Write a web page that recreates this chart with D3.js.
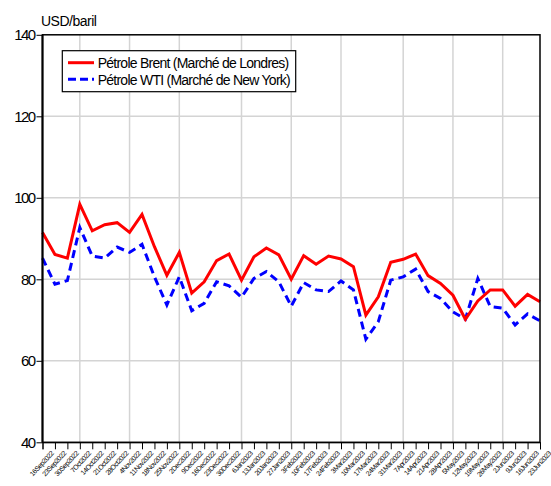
<!DOCTYPE html>
<html><head><meta charset="utf-8">
<script src="https://cdn.jsdelivr.net/npm/d3@7"></script>
<style>
body{margin:0;background:#fff;}
svg{display:block;font-family:"Liberation Sans",Arial,sans-serif;}
</style></head>
<body><svg id="c" width="551" height="486"></svg>
<script>
const dates = ["16Sep2022","23Sep2022","30Sep2022","7Oct2022","14Oct2022","21Oct2022","28Oct2022","4Nov2022","11Nov2022","18Nov2022","25Nov2022","2Dec2022","9Dec2022","16Dec2022","23Dec2022","30Dec2022","6Jan2023","13Jan2023","20Jan2023","27Jan2023","3Feb2023","10Feb2023","17Feb2023","24Feb2023","3Mar2023","10Mar2023","17Mar2023","24Mar2023","31Mar2023","7Apr2023","14Apr2023","21Apr2023","28Apr2023","5May2023","12May2023","19May2023","26May2023","2Jun2023","9Jun2023","16Jun2023","23Jun2023"];
const brent = [91.5,86.1,85.2,98.4,91.9,93.4,93.9,91.5,95.9,88.0,81.0,86.6,76.6,79.4,84.6,86.2,79.8,85.5,87.7,86.0,80.0,85.8,83.7,85.7,85.0,83.1,71.2,75.7,84.2,84.9,86.2,80.9,79.0,76.1,70.2,74.7,77.4,77.4,73.4,76.3,74.5];
const wti = [85.2,78.8,79.7,92.7,85.7,85.2,87.9,86.6,88.6,80.6,73.7,80.6,72.3,74.1,79.4,78.4,75.6,80.2,81.9,79.4,73.4,79.2,77.4,77.0,79.6,77.4,65.3,69.6,79.8,80.6,82.5,77.0,75.3,72.0,70.2,80.2,73.3,72.9,68.8,71.5,69.8];
const yTicks = [40,60,80,100,120,140];
const seriesNames = ["Pétrole Brent (Marché de Londres)","Pétrole WTI (Marché de New York)"];
const unitLabel = "USD/baril";

const svg = d3.select("#c");
const L=42.5, R=540, T=34.8, B=442.3;
const x = d3.scalePoint().domain(dates).range([L,R]);
const y = d3.scaleLinear().domain([40,140]).range([B,T]);

// grid
const grid = svg.append("g").attr("stroke","#d4d4d4").attr("stroke-width",1.5);
yTicks.filter(v=>v>40&&v<140).forEach(v=>{
  grid.append("line").attr("x1",L).attr("x2",R).attr("y1",y(v)).attr("y2",y(v));
});
dates.forEach(d=>{
  const day = parseInt(d);
  if(day<=7){
    grid.append("line").attr("x1",x(d)).attr("x2",x(d)).attr("y1",T).attr("y2",B);
  }
});

// lines
const line = (arr)=>d3.line().x((v,i)=>x(dates[i])).y(v=>y(v))(arr);
svg.append("path").attr("d",line(wti)).attr("fill","none").attr("stroke","#0000ff").attr("stroke-width",3).attr("stroke-dasharray","8,5");
svg.append("path").attr("d",line(brent)).attr("fill","none").attr("stroke","#ff0000").attr("stroke-width",3);

// frame
svg.append("rect").attr("x",L).attr("y",T).attr("width",R-L).attr("height",B-T).attr("fill","none").attr("stroke","#000").attr("stroke-width",1.5);
svg.append("line").attr("x1",L).attr("x2",L).attr("y1",T).attr("y2",B).attr("stroke","#000").attr("stroke-width",2);

// y axis
const ya = svg.append("g").attr("transform",`translate(${L},0)`).call(d3.axisLeft(y).tickValues(yTicks).tickSize(6).tickFormat(d3.format("d")));
ya.select(".domain").remove();
ya.selectAll("text").attr("font-size",15).attr("letter-spacing","-1.6px").attr("fill","#000").attr("x",-8).attr("font-family","'Liberation Sans',Arial,sans-serif");
ya.selectAll("line").attr("stroke","#000");

// x axis
const xa = svg.append("g").attr("transform",`translate(0,${B})`).call(d3.axisBottom(x).tickSize(7));
xa.select(".domain").attr("stroke","#000");
xa.selectAll("line").attr("stroke","#000");
xa.selectAll("text").attr("font-size",7).attr("letter-spacing","-0.5px").attr("fill","#000")
  .attr("text-anchor","end").attr("transform","translate(3,4) rotate(-47)").attr("dy","0.3em").attr("y",9).attr("x",0).attr("font-family","'Liberation Sans',Arial,sans-serif");

// unit label
svg.append("text").attr("x",41).attr("y",26).attr("font-size",14).attr("letter-spacing","-0.5px").text(unitLabel);

// legend
const lg = svg.append("g");
lg.append("rect").attr("x",62.3).attr("y",50.7).attr("width",233.4).attr("height",41).attr("fill","#fff").attr("stroke","#000").attr("stroke-width",1.2);
lg.append("line").attr("x1",68).attr("x2",94).attr("y1",62.7).attr("y2",62.7).attr("stroke","#ff0000").attr("stroke-width",3);
lg.append("line").attr("x1",68).attr("x2",94).attr("y1",79.3).attr("y2",79.3).attr("stroke","#0000ff").attr("stroke-width",3).attr("stroke-dasharray","8,4");
lg.append("text").attr("x",97.7).attr("y",68).attr("font-size",14).attr("letter-spacing","-0.75px").text(seriesNames[0]);
lg.append("text").attr("x",97.7).attr("y",84.5).attr("font-size",14).attr("letter-spacing","-0.75px").text(seriesNames[1]);
</script></body></html>
